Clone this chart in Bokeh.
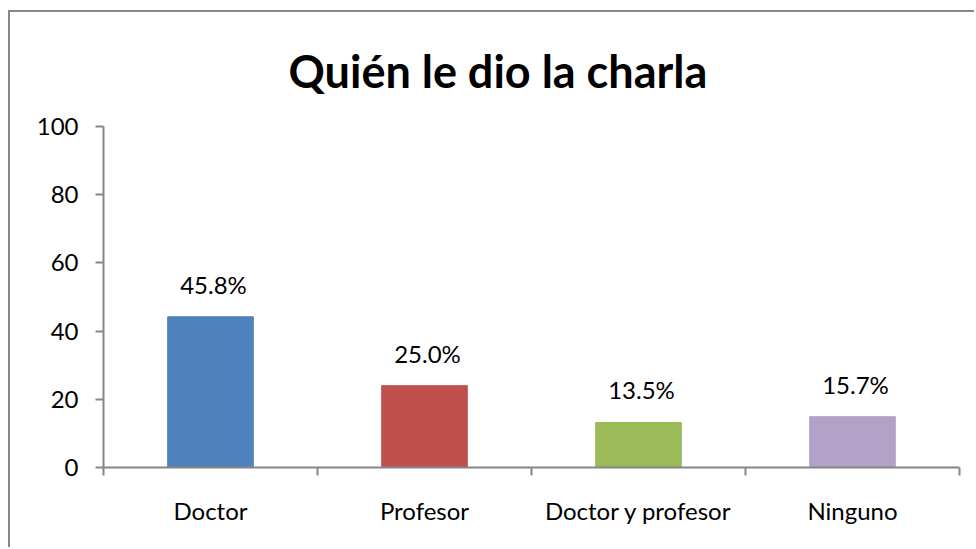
from bokeh.plotting import figure
from bokeh.models import ColumnDataSource, FixedTicker, LabelSet, Range1d
from bokeh.core.properties import value
from bokeh.embed import file_html
from bokeh.resources import INLINE

categories = ["Doctor", "Profesor", "Doctor y profesor", "Ninguno"]
bar_values = [44.2, 24.0, 13.2, 14.9]
label_texts = ["45.8%", "25.0%", "13.5%", "15.7%"]
colors = ["#4F81BD", "#C0504D", "#9BBB59", "#B2A2C7"]
y_ticks = [0, 20, 40, 60, 80, 100]

xs = [i + 0.5 for i in range(len(categories))]
source = ColumnDataSource(dict(x=xs, top=bar_values, label=label_texts, color=colors))

FONT = "Lato"
AXIS = "#868686"

p = figure(width=966, height=537, output_backend="svg", toolbar_location=None,
           x_range=Range1d(0, len(categories)), y_range=Range1d(0, 100),
           min_border_left=93, min_border_right=17, min_border_top=113, min_border_bottom=82,
           styles={"border-left": "2px solid #878787", "border-top": "2px solid #878787",
                   "margin-left": "8px", "margin-top": "10px"})

p.vbar(x="x", top="top", width=0.4, color="color", source=source)

labels = LabelSet(x="x", y="top", text="label", source=source, text_align="center",
                  text_baseline="alphabetic", y_offset=23, x_offset=3, text_font=value(FONT),
                  text_font_size="24px", text_color="#000000")
p.add_layout(labels)

p.title.text = "Quién le dio la charla"
p.title.align = "left"
p.title.offset = 185
p.title.text_font = FONT
p.title.text_font_style = "bold"
p.title.text_font_size = "45px"
p.title.text_color = "#000000"
p.title.text_line_height = 0.85
p.title.standoff = 58

p.xgrid.visible = False
p.ygrid.visible = False
p.outline_line_color = None
p.background_fill_color = "white"
p.border_fill_color = "white"

xa = p.xaxis[0]
xa.ticker = FixedTicker(ticks=xs, minor_ticks=list(range(len(categories) + 1)))
xa.major_label_overrides = {x: c for x, c in zip(xs, categories)}
xa.major_tick_line_color = None
xa.minor_tick_in = 0
xa.minor_tick_out = 8
xa.minor_tick_line_color = AXIS
xa.minor_tick_line_width = 2
xa.axis_line_color = AXIS
xa.axis_line_width = 2
xa.major_label_text_font = FONT
xa.major_label_text_font_size = "24px"
xa.major_label_text_color = "#000000"
xa.major_label_standoff = 20

ya = p.yaxis[0]
ya.ticker = FixedTicker(ticks=y_ticks)
ya.minor_tick_line_color = None
ya.major_tick_in = 0
ya.major_tick_out = 8
ya.major_tick_line_color = AXIS
ya.major_tick_line_width = 2
ya.axis_line_color = AXIS
ya.axis_line_width = 2
ya.major_label_text_font = FONT
ya.major_label_text_font_size = "24px"
ya.major_label_text_color = "#000000"
ya.major_label_standoff = 17

open("out.html", "w").write(file_html(p, INLINE))
